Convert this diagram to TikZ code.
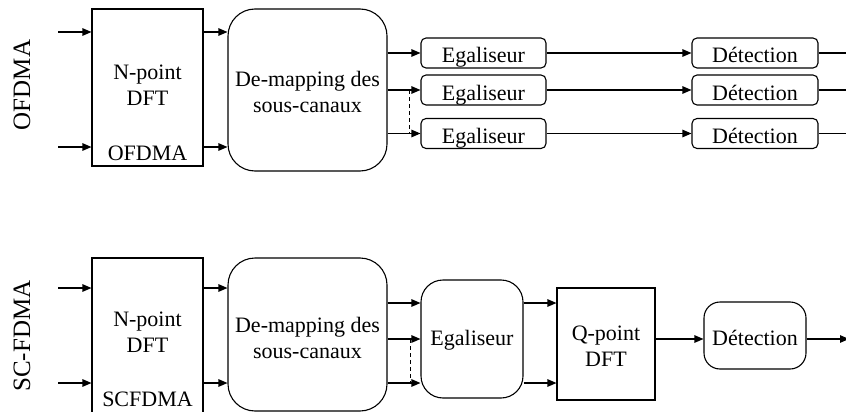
\documentclass[tikz,border=0pt]{standalone}
\usepackage{fontspec}
\setmainfont{Liberation Serif}
\usetikzlibrary{arrows.meta}
\begin{document}
\begin{tikzpicture}[x=1pt,y=-1pt,
  box/.style={draw, line width=1.1pt, inner sep=0pt, align=center, font=\fontsize{22}{26}\selectfont},
  rbox/.style={box, rounded corners=#1},
  lbl/.style={text height=20pt, text depth=0pt},
  arr/.style={line width=1.1pt, -{Triangle[length=9pt,width=7.5pt]}},
  dsh/.style={line width=1pt, dash pattern=on 4pt off 3pt},
  txt/.style={align=center, font=\fontsize{22}{26}\selectfont, inner sep=0pt},
  side/.style={rotate=90, inner sep=0pt, font=\fontsize{25}{30}\selectfont}]
\clip (0,0) rectangle (846,412);
\fill[white] (0,0) rectangle (846,412);

% ---------------- OFDMA ----------------
\node[side] (lab1) at (22,85) {OFDMA};
\node[box, minimum width=111pt, minimum height=157pt] (dft1) at (147.5,87.5) {};
\node[txt] (dft1t) at (147.5,85) {N-point\\DFT};
\node[txt] (dft1b) at (147.5,153) {OFDMA};
\node[rbox=27pt, minimum width=159pt, minimum height=162pt] (dem1) at (307.5,90) {};
\node[txt] (dem1t) at (307.5,92) {De-mapping des\\sous-canaux};

\coordinate (in1a) at (58,32);
\coordinate (in1b) at (58,147);
\draw[arr] (in1a) -- (dft1.west |- in1a);
\draw[arr] (in1b) -- (dft1.west |- in1b);
\draw[arr] (dft1.east |- in1a) -- (dem1.west |- in1a);
\draw[arr] (dft1.east |- in1b) -- (dem1.west |- in1b);

\node[rbox=5pt, lbl, minimum width=125pt, minimum height=30pt] (eq1a) at (483.5,53) {Egaliseur};
\node[rbox=5pt, lbl, minimum width=125pt, minimum height=30pt] (eq1b) at (483.5,90) {Egaliseur};
\node[rbox=5pt, lbl, minimum width=125pt, minimum height=30pt] (eq1c) at (483.5,133.5) {Egaliseur};
\node[rbox=5pt, lbl, minimum width=126pt, minimum height=30pt] (det1a) at (755,53) {Détection};
\node[rbox=5pt, lbl, minimum width=126pt, minimum height=30pt] (det1b) at (755,90) {Détection};
\node[rbox=5pt, lbl, minimum width=126pt, minimum height=30pt] (det1c) at (755,133.5) {Détection};

\foreach \r in {a,b,c}{
  \draw[arr] (dem1.east |- eq1\r.west) -- (eq1\r.west);
  \draw[arr] (eq1\r.east) -- (det1\r.west);
}
\coordinate (out1a) at (855,53);
\coordinate (out1b) at (855,90);
\coordinate (out1c) at (855,133.5);
\draw[arr] (det1a.east) -- (out1a);
\draw[arr] (det1b.east) -- (out1b);
\draw[arr] (det1c.east) -- (out1c);
\draw[dsh] ([xshift=-11pt]eq1b.west) -- ([xshift=-11pt]eq1c.west);

% ---------------- SC-FDMA ----------------
\node[side] (lab2) at (22,336) {SC-FDMA};
\node[box, minimum width=111pt, minimum height=164pt] (dft2) at (147.5,340) {};
\node[txt] (dft2t) at (147.5,332.5) {N-point\\DFT};
\node[txt] (dft2b) at (147.5,399) {SCFDMA};
\node[rbox=27pt, minimum width=159pt, minimum height=153pt] (dem2) at (307.5,334.5) {};
\node[txt] (dem2t) at (307.5,338) {De-mapping des\\sous-canaux};

\coordinate (in2a) at (58,288);
\coordinate (in2b) at (58,383);
\draw[arr] (in2a) -- (dft2.west |- in2a);
\draw[arr] (in2b) -- (dft2.west |- in2b);
\draw[arr] (dft2.east |- in2a) -- (dem2.west |- in2a);
\draw[arr] (dft2.east |- in2b) -- (dem2.west |- in2b);

\node[rbox=22pt, minimum width=102pt, minimum height=118pt] (eq2) at (472,339) {};
\node[txt] (eq2t) at (472,340) {Egaliseur};
\node[box, minimum width=98pt, minimum height=112pt] (qdft) at (606,344) {};
\node[txt] (qdftt) at (606,346) {Q-point\\DFT};
\node[rbox=16pt, lbl, minimum width=102pt, minimum height=67pt] (det2) at (755,335.5) {Détection};

\coordinate (y2a) at (0,303);
\coordinate (y2b) at (0,339);
\coordinate (y2c) at (0,383);
\draw[arr] (dem2.east |- y2a) -- (eq2.west |- y2a);
\draw[arr] (dem2.east |- y2b) -- (eq2.west |- y2b);
\draw[arr] (dem2.east |- y2c) -- (eq2.west |- y2c);
\draw[dsh] (410,339) -- (410,383);
\draw[arr] (eq2.east |- y2a) -- (qdft.west |- y2a);
\draw[arr] (eq2.east |- y2c) -- (qdft.west |- y2c);
\draw[arr] (qdft.east |- y2b) -- (det2.west |- y2b);
\coordinate (out2) at (849,339);
\draw[arr] (det2.east |- out2) -- (out2);
\end{tikzpicture}
\end{document}
